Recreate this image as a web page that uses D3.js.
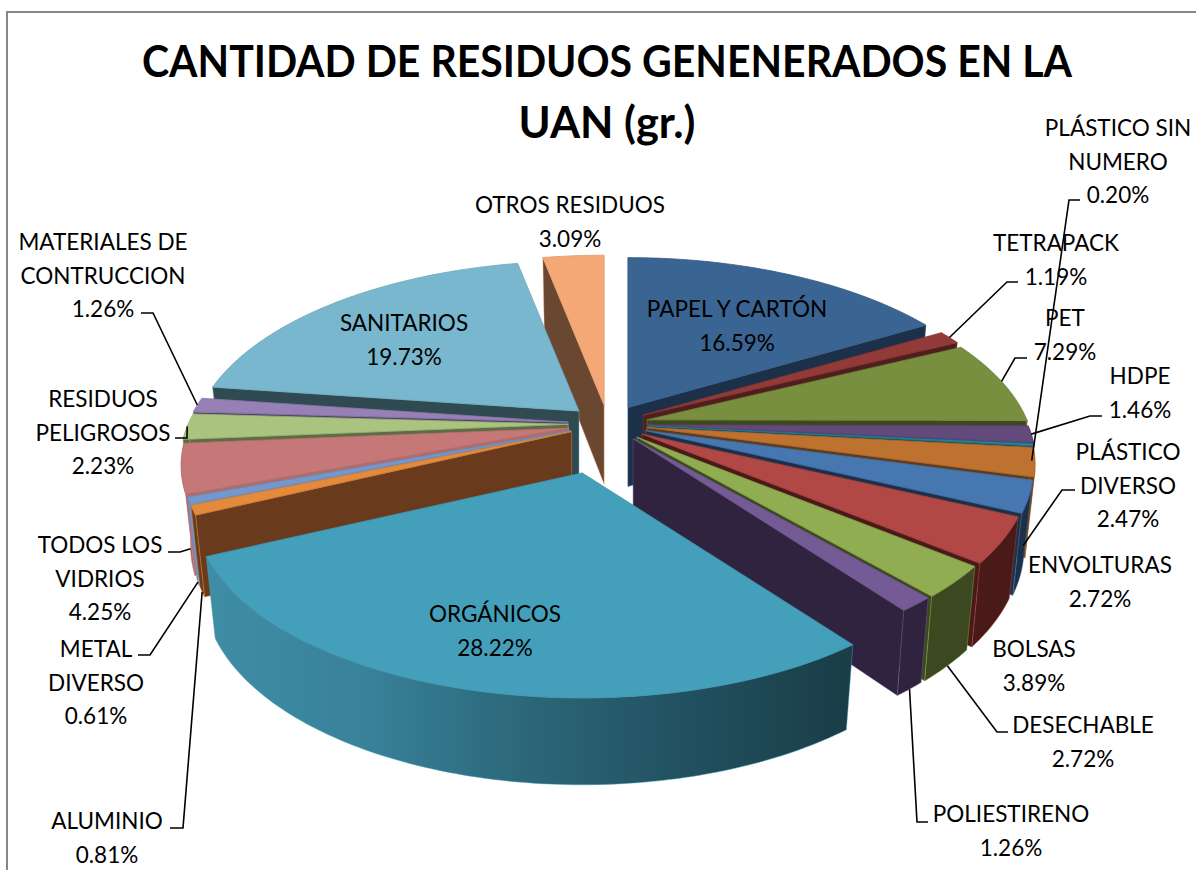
<!DOCTYPE html>
<html><head><meta charset="utf-8">
<script src="https://cdnjs.cloudflare.com/ajax/libs/d3/7.8.5/d3.min.js"></script>
<style>html,body{margin:0;padding:0;background:#fff;overflow:hidden}svg{display:block}text{font-family:Lato,"Open Sans",sans-serif;fill:#000}</style>
</head><body><svg id="c" width="1196" height="870"></svg>
<script>
// ---- data ----
const titleLines = ["CANTIDAD DE RESIDUOS GENENERADOS EN LA", "UAN (gr.)"];
const categories = ["PAPEL Y CARTÓN","TETRAPACK","PET","HDPE","PLÁSTICO SIN NUMERO","PLÁSTICO DIVERSO","ENVOLTURAS","BOLSAS","DESECHABLE","POLIESTIRENO","ORGÁNICOS","ALUMINIO","METAL DIVERSO","TODOS LOS VIDRIOS","RESIDUOS PELIGROSOS","MATERIALES DE CONTRUCCION","SANITARIOS","OTROS RESIDUOS"];
const percents = [16.59,1.19,7.29,1.46,0.20,2.47,2.72,3.89,2.72,1.26,28.22,0.81,0.61,4.25,2.23,1.26,19.73,3.09];
const explosion = [.105,.105,.105,.105,.105,.105,.105,.105,.105,.105,.28,.105,.105,.105,.105,.105,.105,.105];

// ---- styling and layout ----
const topColors = ["#3A6491","#923A38","#788F40","#644A7C","#28819A","#BD7230","#4777B1","#B14845","#90AD51","#755B96","#44A0BA","#E38A3C","#7398CC","#C67878","#AAC47F","#9680B5","#78B7CE","#F4A876"];
const wallColors = ["#1C3149","#4F1F1D","#3D481F","#33263F","#174350","#5E3A1A","#1C3149","#4A1A18","#3C481F","#2F2340","url(#orgWall)","#693A1C","#6C8FC0","#B06B6B","#5D6C44","#4F4363","#304A52","#6A4730"];
const labelLines = [["PAPEL Y CARTÓN"],["TETRAPACK"],["PET"],["HDPE"],["PLÁSTICO SIN","NUMERO"],["PLÁSTICO","DIVERSO"],["ENVOLTURAS"],["BOLSAS"],["DESECHABLE"],["POLIESTIRENO"],["ORGÁNICOS"],["ALUMINIO"],["METAL","DIVERSO"],["TODOS LOS","VIDRIOS"],["RESIDUOS","PELIGROSOS"],["MATERIALES DE","CONTRUCCION"],["SANITARIOS"],["OTROS RESIDUOS"]];
const labelCentre = [737,1056,1065,1140,1118,1128,1100,1034,1083,1011,495,107,96,100,103,103,404,570];
const labelBaseline = [317,251,326,384,136,460,573,657,733,822,622,829,657,553,407,250,331,213];
const lineStep = 33.5;
const titleWidths = [930,177];
// leader: start and elbow next to the label; the far end is found on the slice (fraction down its wall)
const leaderStart = [null,[1018,282],[1027,358],[1102,416],[1080,200],null,[1075,490],null,[1008,732],[928,822],null,[170,828],[138,655],[168,552],[175,438],[141,313],null,null];
const leaderElbow = [null,[1007,282],[1015,358],[1090,416],[1069,200],null,[1062,490],null,[997,732],[917,822],null,[183,828],[150,655],[180,552],[187,438],[153,313],null,null];
const leaderDrop  = [0,0,0,0,.2,0,.6,0,1,1,0,1,1,1,0,0,0,0];

const cx=608, cy=424, rx=380, ry=180, persp=.2, depth=79;
const rad=Math.PI/180;
const svg=d3.select("#c");
svg.append("rect").attr("width",1196).attr("height",870).attr("fill","#fff");
const defs=svg.append("defs");
const g=defs.append("linearGradient").attr("id","orgWall").attr("gradientUnits","userSpaceOnUse").attr("x1",200).attr("x2",850).attr("y1",0).attr("y2",0);
[[0,"#3F8EA5"],[.25,"#38829A"],[.5,"#2C6779"],[.75,"#215060"],[1,"#1A3D47"]].forEach(s=>g.append("stop").attr("offset",s[0]).attr("stop-color",s[1]));

// frame
svg.append("path").attr("d",d3.line()([[7,870],[7,12],[1196,12]])).attr("fill","none").attr("stroke","#868686").attr("stroke-width",2);

const slices=d3.pie().sort(null).value(d=>d).startAngle(0).endAngle(2*Math.PI)(percents);
const line=d3.line();
function pt(d,t,r,h){
  const mid=(d.startAngle+d.endAngle)/2, e=explosion[d.index];
  const ax=cx+e*rx*Math.sin(mid), ay=cy-e*ry*Math.cos(mid);
  const u=r*Math.sin(t), v=-r*Math.cos(t), s=1/(1-persp*v);
  return [ax+u*rx*s*(1-.024*h), ay+v*ry*s+h*depth*(1+(s-1)*.4)];
}
function arcPts(d,a,b,h){
  const n=Math.max(2,Math.ceil((b-a)/(rad*1)));
  return d3.range(n+1).map(i=>pt(d,a+(b-a)*i/n,1,h));
}
const order=slices.slice().sort((p,q)=>{
  const m=d=>-Math.cos((d.startAngle+d.endAngle)/2);
  return m(p)-m(q);
});
const pies=svg.append("g");
order.forEach(d=>{
  const top=topColors[d.index], wall=wallColors[d.index], i=d.index;
  const a=d.startAngle,b=d.endAngle;
  const gs=pies.append("g");
  const wallStyle=sel=>sel.attr("fill",wall).attr("stroke",top).attr("stroke-opacity",.55).attr("stroke-width",.8).attr("stroke-linejoin","round");
  if(Math.sin(a)<-.001){
    gs.append("path").attr("d",line([pt(d,a,0,0),pt(d,a,1,0),pt(d,a,1,1),pt(d,a,0,1)])+"Z").call(wallStyle);
  }
  if(Math.sin(b)>.001){
    gs.append("path").attr("d",line([pt(d,b,0,0),pt(d,b,1,0),pt(d,b,1,1),pt(d,b,0,1)])+"Z").call(wallStyle);
  }
  const wa=Math.max(a,90*rad), wb=Math.min(b,270*rad);
  if(wb>wa){
    const up=arcPts(d,wa,wb,0), dn=arcPts(d,wa,wb,1).reverse();
    gs.append("path").attr("d",line(up.concat(dn))+"Z").call(wallStyle);
  }
  gs.append("path").attr("d",line([pt(d,a,0,0)].concat(arcPts(d,a,b,0)))+"Z")
    .attr("fill",top).attr("stroke",d3.color(top).darker(.25)).attr("stroke-width",.8).attr("stroke-linejoin","round");
});

// leaders
slices.forEach(d=>{
  const i=d.index; if(!leaderStart[i]) return;
  const mid=(d.startAngle+d.endAngle)/2;
  svg.append("path").attr("d",line([leaderStart[i],leaderElbow[i],pt(d,mid,1,leaderDrop[i])]))
    .attr("fill","none").attr("stroke","#000").attr("stroke-width",1.6);
});

// labels
categories.forEach((c,i)=>{
  const lines=labelLines[i].concat([percents[i].toFixed(2)+"%"]);
  lines.forEach((t,k)=>{
    svg.append("text").attr("x",labelCentre[i]).attr("y",labelBaseline[i]+k*lineStep)
      .attr("text-anchor","middle").attr("font-size",22.5).text(t);
  });
});
titleLines.forEach((t,k)=>{
  svg.append("text").attr("x",607).attr("y",77+k*61).attr("text-anchor","middle")
    .attr("font-size",44).attr("font-weight",700)
    .attr("textLength",titleWidths[k]).attr("lengthAdjust","spacingAndGlyphs").text(t);
});
</script></body></html>
